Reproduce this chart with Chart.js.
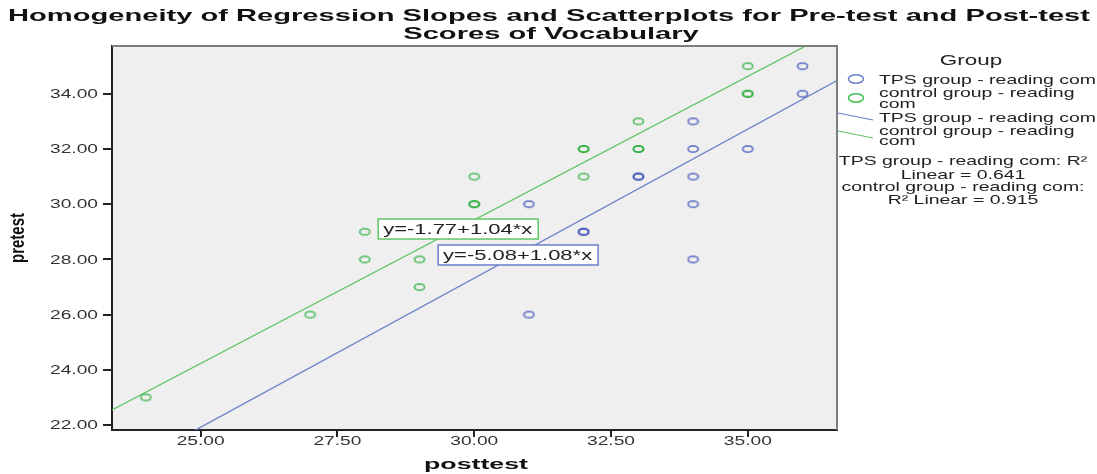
<!DOCTYPE html>
<html>
<head>
<meta charset="utf-8">
<title>Homogeneity of Regression Slopes</title>
<script src="https://cdn.jsdelivr.net/npm/chart.js@4.4.1/dist/chart.umd.min.js"></script>
<style>
  html, body { margin: 0; padding: 0; background: #ffffff; }
  #chart { display: block; }
</style>
</head>
<body>
<canvas id="chart" width="1097" height="474"></canvas>
<script>
// posttest / pretest per student; repeated pairs sit on top of each other
const tpsPost = [31, 31, 32, 32, 33, 33, 34, 34, 34, 34, 34, 35, 36, 36];
const tpsPre  = [30, 26, 29, 29, 31, 31, 33, 32, 31, 30, 28, 32, 35, 34];

const controlPost = [24, 27, 28, 28, 29, 29, 30, 30, 30, 32, 32, 32, 33, 33, 33, 35, 35, 35];
const controlPre  = [23, 26, 29, 28, 28, 27, 31, 30, 30, 32, 32, 31, 33, 32, 32, 35, 34, 34];

const groupNames = ['TPS group - reading com', 'control group - reading com'];
const fitIntercepts = [-5.08, -1.77];
const fitSlopes = [1.08, 1.04];
const fitR2 = [0.641, 0.915];

const xTicks = [25, 27.5, 30, 32.5, 35];
const yTicks = [22, 24, 26, 28, 30, 32, 34];
const xRange = [23.38, 36.63];
const yRange = [21.82, 35.73];

const chartTitle = ['Homogeneity of Regression Slopes and Scatterplots for Pre-test and Post-test', 'Scores of Vocabulary'];
const xTitle = 'posttest';
const yTitle = 'pretest';

const FONT = '"Liberation Sans", Arial, sans-serif';
const blueLine = '#6a7fca';
const greenLine = '#5fc667';

function ring(color) {
    const c = document.createElement('canvas');
    c.width = 13;
    c.height = 10;
    const g = c.getContext('2d');
    g.strokeStyle = color;
    g.lineWidth = 1.8;
    g.beginPath();
    g.ellipse(6.5, 5, 5, 3.2, 0, 0, Math.PI * 2);
    g.stroke();
    return c;
}

function pairs(xs, ys) {
    return xs.map((x, i) => ({ x: x, y: ys[i] }));
}

function fitLine(i) {
    return xRange.map(x => ({ x: x, y: fitIntercepts[i] + fitSlopes[i] * x }));
}

// text is drawn wider than tall, like the exported picture
function stretched(ctx, text, x, y, sx, align) {
    ctx.save();
    ctx.translate(x, y);
    ctx.scale(sx, 1);
    ctx.textAlign = align;
    ctx.fillText(text, 0, 0);
    ctx.restore();
}

function fitScale(ctx, font, text, width) {
    ctx.font = font;
    return width / ctx.measureText(text).width;
}

function wrap(ctx, text, maxWidth, sx) {
    const words = text.split(' ');
    const lines = [];
    let line = '';
    words.forEach(w => {
        const test = line ? line + ' ' + w : w;
        if (line && ctx.measureText(test).width * sx > maxWidth) {
            lines.push(line);
            line = w;
        } else {
            line = test;
        }
    });
    lines.push(line);
    return lines;
}

const decor = {
    id: 'decor',
    beforeDraw(chart) {
        const a = chart.chartArea;
        const ctx = chart.ctx;
        ctx.save();
        ctx.fillStyle = '#efefef';
        ctx.fillRect(a.left, a.top, a.right - a.left, a.bottom - a.top);
        ctx.restore();
    },
    afterDatasetsDraw(chart) {
        const ctx = chart.ctx;
        const xs = chart.scales.x;
        const ys = chart.scales.y;
        const font = '14px ' + FONT;
        const sx = fitScale(ctx, font, 'y=-1.77+1.04*x', 149);
        const anchors = [[29.34, 28.16], [28.245, 29.10]];
        [1, 0].forEach(i => {
            const sign = fitIntercepts[i] < 0 ? '-' : '+';
            const text = 'y=' + sign + Math.abs(fitIntercepts[i]).toFixed(2) + '+' + fitSlopes[i].toFixed(2) + '*x';
            const left = xs.getPixelForValue(anchors[i][0]);
            const cy = ys.getPixelForValue(anchors[i][1]);
            ctx.save();
            ctx.font = font;
            const w = ctx.measureText(text).width * sx;
            ctx.fillStyle = '#ffffff';
            ctx.strokeStyle = i === 0 ? blueLine : greenLine;
            ctx.lineWidth = 1.5;
            ctx.fillRect(left, cy - 10, w + 11, 20);
            ctx.strokeRect(left, cy - 10, w + 11, 20);
            ctx.fillStyle = '#222222';
            ctx.textBaseline = 'middle';
            stretched(ctx, text, left + 5, cy + 1, sx, 'left');
            ctx.restore();
        });
    },
    afterDraw(chart) {
        const ctx = chart.ctx;
        const a = chart.chartArea;
        const xs = chart.scales.x;
        const ys = chart.scales.y;

        ctx.save();
        // top and right frame
        ctx.strokeStyle = '#7d7d7d';
        ctx.lineWidth = 2;
        ctx.beginPath();
        ctx.moveTo(a.left, a.top);
        ctx.lineTo(a.right, a.top);
        ctx.lineTo(a.right, a.bottom);
        ctx.stroke();

        // tick marks
        ctx.strokeStyle = '#222222';
        ctx.lineWidth = 2;
        ctx.beginPath();
        yTicks.forEach(v => {
            const py = Math.round(ys.getPixelForValue(v));
            ctx.moveTo(a.left - 9, py);
            ctx.lineTo(a.left, py);
        });
        xTicks.forEach(v => {
            const px = Math.round(xs.getPixelForValue(v));
            ctx.moveTo(px, a.bottom);
            ctx.lineTo(px, a.bottom + 7);
        });
        ctx.stroke();

        // tick labels
        const tickFont = '12px ' + FONT;
        const tsx = fitScale(ctx, tickFont, '34.00', 48);
        ctx.fillStyle = '#333333';
        ctx.textBaseline = 'middle';
        yTicks.forEach(v => stretched(ctx, v.toFixed(2), a.left - 14, ys.getPixelForValue(v) + 1, tsx, 'right'));
        xTicks.forEach(v => stretched(ctx, v.toFixed(2), xs.getPixelForValue(v), a.bottom + 12, tsx, 'center'));

        // axis titles
        ctx.fillStyle = '#111111';
        const axFont = 'bold 15px ' + FONT;
        const asx = fitScale(ctx, axFont, xTitle, 104);
        stretched(ctx, xTitle, 476, 465, asx, 'center');
        ctx.save();
        ctx.translate(19, 238);
        ctx.rotate(-Math.PI / 2);
        ctx.scale(1, 1.3);
        ctx.textAlign = 'center';
        ctx.fillText(yTitle, 0, 0);
        ctx.restore();

        // chart title
        const tFont = 'bold 17px ' + FONT;
        const ssx = fitScale(ctx, tFont, chartTitle[0], 1082);
        ctx.fillStyle = '#111111';
        stretched(ctx, chartTitle[0], 549, 16, ssx, 'center');
        stretched(ctx, chartTitle[1], 551, 34, ssx, 'center');

        // legend
        const lFont = '13px ' + FONT;
        const lsx = fitScale(ctx, lFont, groupNames[0], 217);
        ctx.fillStyle = '#222222';
        ctx.font = '15px ' + FONT;
        stretched(ctx, 'Group', 971, 61, lsx, 'center');
        ctx.font = lFont;

        const markerColors = ['#6e83cc', '#45bf55'];
        const lineColors = [blueLine, greenLine];
        const markerY = [79, 98];
        const markerText = [[80], [93, 104]];
        const lineY = [[113, 120], [131, 138]];
        const lineText = [[118], [131, 141]];
        groupNames.forEach((name, i) => {
            ctx.strokeStyle = markerColors[i];
            ctx.lineWidth = 1.6;
            ctx.beginPath();
            ctx.ellipse(856, markerY[i], 7.5, 4.3, 0, 0, Math.PI * 2);
            ctx.stroke();
            const lines = wrap(ctx, name, 222, lsx);
            lines.forEach((l, k) => stretched(ctx, l, 879, markerText[i][k], lsx, 'left'));

            ctx.strokeStyle = lineColors[i];
            ctx.lineWidth = 1.2;
            ctx.beginPath();
            ctx.moveTo(a.right + 1, lineY[i][0]);
            ctx.lineTo(873, lineY[i][1]);
            ctx.stroke();
            lines.forEach((l, k) => stretched(ctx, l, 879, lineText[i][k], lsx, 'left'));
        });

        const r2Y = [[161, 175], [187, 200]];
        groupNames.forEach((name, i) => {
            const text = name + ': R² Linear = ' + fitR2[i].toFixed(3);
            const lines = wrap(ctx, text, 252, lsx);
            lines.forEach((l, k) => stretched(ctx, l, 963, r2Y[i][k], lsx, 'center'));
        });
        ctx.restore();
    }
};

new Chart(document.getElementById('chart'), {
    type: 'scatter',
    data: {
        datasets: [
            {
                label: groupNames[0],
                data: pairs(tpsPost, tpsPre),
                pointStyle: ring('rgba(45, 70, 180, 0.68)'),
                pointRadius: 4
            },
            {
                label: groupNames[1],
                data: pairs(controlPost, controlPre),
                pointStyle: ring('rgba(25, 170, 45, 0.68)'),
                pointRadius: 4
            },
            {
                label: groupNames[0] + ' fit',
                data: fitLine(0),
                showLine: true,
                borderColor: blueLine,
                borderWidth: 1.3,
                pointRadius: 0
            },
            {
                label: groupNames[1] + ' fit',
                data: fitLine(1),
                showLine: true,
                borderColor: greenLine,
                borderWidth: 1.3,
                pointRadius: 0
            }
        ]
    },
    options: {
        responsive: false,
        animation: false,
        events: [],
        layout: {
            padding: { left: 0, top: 46, right: 260, bottom: 0 }
        },
        plugins: {
            legend: { display: false },
            title: { display: false },
            tooltip: { enabled: false }
        },
        scales: {
            x: {
                type: 'linear',
                min: xRange[0],
                max: xRange[1],
                afterBuildTicks: s => { s.ticks = xTicks.map(v => ({ value: v })); },
                afterFit: s => { s.height = 44; },
                ticks: { display: false },
                grid: { display: false },
                border: { color: '#222222', width: 2 }
            },
            y: {
                type: 'linear',
                min: yRange[0],
                max: yRange[1],
                afterBuildTicks: s => { s.ticks = yTicks.map(v => ({ value: v })); },
                afterFit: s => { s.width = 112; },
                ticks: { display: false },
                grid: { display: false },
                border: { color: '#222222', width: 2 }
            }
        }
    },
    plugins: [decor]
});
</script>
</body>
</html>
